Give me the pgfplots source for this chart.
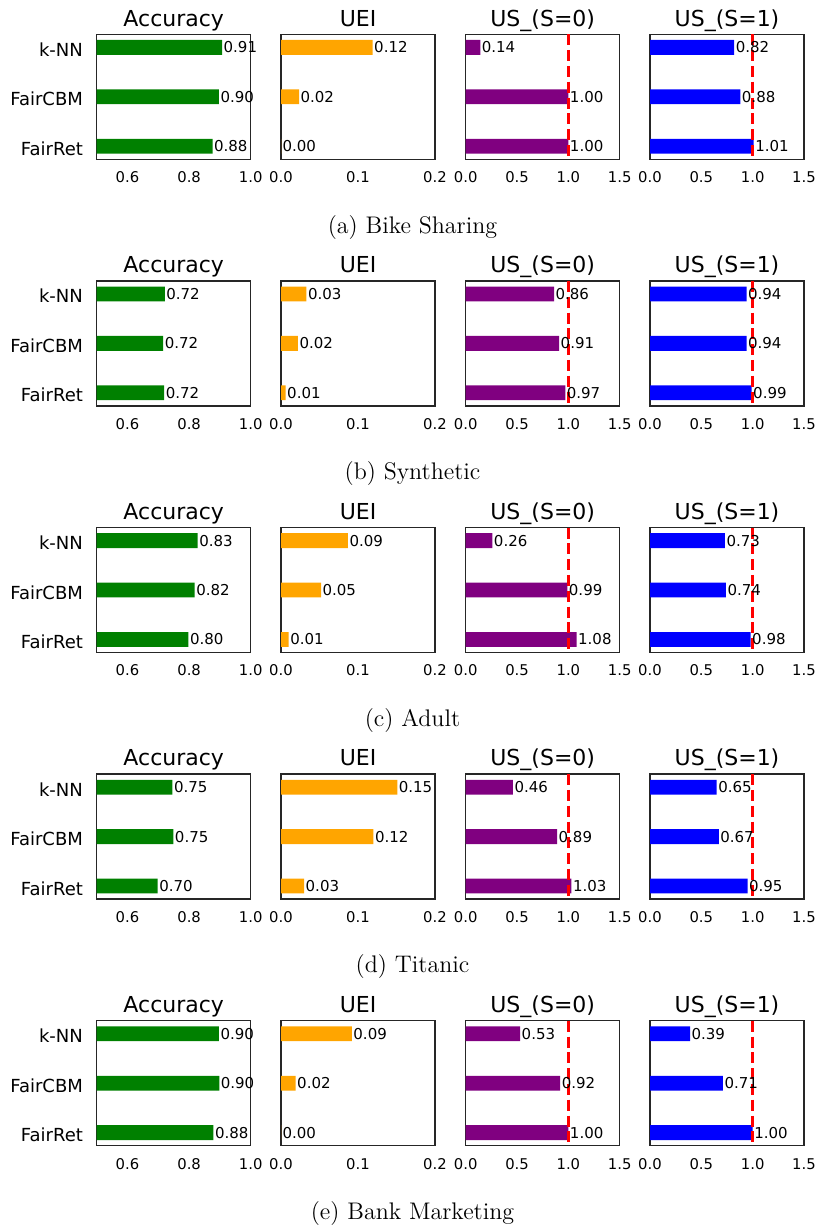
\documentclass[border=0pt]{standalone}
\usepackage{fontspec}
\newfontfamily\dv{DejaVu Sans}
\usepackage{pgfplots}
\pgfplotsset{compat=1.18}
\definecolor{mgreen}{RGB}{0,128,0}
\definecolor{morange}{RGB}{255,165,0}
\definecolor{mpurple}{RGB}{128,0,128}
\definecolor{mblue}{RGB}{0,0,255}
\definecolor{mred}{RGB}{255,0,0}
\pgfplotsset{
  panel/.style={
    scale only axis, width=77pt, height=62.5pt,
    anchor=north west,
    ymin=-0.265, ymax=2.265, y dir=reverse,
    ytick=\empty,
    axis line style={line width=0.75pt, black!85},
    major tick length=0pt,
    tick style={draw=none},
    every axis title shift=0pt,
    xticklabel style={font=\dv\fontsize{7.4}{8}\selectfont, anchor=base, yshift=-11.7pt, inner sep=0pt},
    yticklabel style={font=\dv\fontsize{9}{10}\selectfont, anchor=base east, xshift=-6.7pt, yshift=-4.5pt, inner sep=0pt},
    title style={font=\dv\fontsize{11}{12}\selectfont, at={(0.5,1)}, anchor=base, yshift=4.15pt, inner sep=0pt},
  },
  hb/.style={
    xbar, bar width=0.3, draw=none, point meta=x,
    nodes near coords={\pgfmathprintnumber[fixed,zerofill,precision=2,assume math mode=true]{\pgfplotspointmeta}},
    every node near coord/.append style={font=\dv\fontsize{7.5}{8}\selectfont, anchor=west, inner sep=0.6pt, text=black},
  },
  refline/.style={mred, line width=1.5pt, dash pattern=on 5.5pt off 2.4pt, mark=none},
}
\newcommand{\panelrow}[6]{%
  \begin{axis}[panel, at={(48.35pt,-#1pt)}, title={Accuracy},
      xmin=0.5, xmax=1.0, xtick={0.6,0.8,1.0}, xticklabels={0.6,0.8,1.0},
      ytick={0,1,2}, yticklabels={k-NN,FairCBM,FairRet}]
    \addplot[hb, fill=mgreen] coordinates {#3};
  \end{axis}
  \begin{axis}[panel, at={(140.5pt,-#1pt)}, title={UEI},
      xmin=0, xmax=0.2, xtick={0,0.1,0.2}, xticklabels={0.0,0.1,0.2}]
    \addplot[hb, fill=morange] coordinates {#4};
  \end{axis}
  \begin{axis}[panel, at={(232.85pt,-#1pt)}, title={US\_(S=0)},
      xmin=0, xmax=1.5, xtick={0,0.5,1,1.5}, xticklabels={0.0,0.5,1.0,1.5}]
    \addplot[hb, fill=mpurple] coordinates {#5};
    \addplot[refline] coordinates {(1,-0.265) (1,2.265)};
  \end{axis}
  \begin{axis}[panel, at={(325pt,-#1pt)}, title={US\_(S=1)},
      xmin=0, xmax=1.5, xtick={0,0.5,1,1.5}, xticklabels={0.0,0.5,1.0,1.5}]
    \addplot[hb, fill=mblue] coordinates {#6};
    \addplot[refline] coordinates {(1,-0.265) (1,2.265)};
  \end{axis}
}
\begin{document}
\begin{tikzpicture}
\useasboundingbox (0,0) rectangle (410pt,-613pt);
\panelrow{17.15}{a}
  {(0.907,0) (0.897,1) (0.876,2)}
  {(0.119,0) (0.0234,1) (0,2)}
  {(0.142,0) (1.0,1) (1.0,2)}
  {(0.82,0) (0.88,1) (1.01,2)}
\node[font=\fontsize{12}{14}\selectfont, anchor=base] at (206.25pt,-116.5pt) {(a) Bike Sharing};
\panelrow{140.45}{b}
  {(0.721,0) (0.716,1) (0.719,2)}
  {(0.033,0) (0.022,1) (0.006,2)}
  {(0.86,0) (0.91,1) (0.97,2)}
  {(0.94,0) (0.94,1) (0.99,2)}
\node[font=\fontsize{12}{14}\selectfont, anchor=base] at (206.25pt,-239.8pt) {(b) Synthetic};
\panelrow{263.75}{c}
  {(0.828,0) (0.818,1) (0.798,2)}
  {(0.087,0) (0.052,1) (0.01,2)}
  {(0.26,0) (0.99,1) (1.08,2)}
  {(0.73,0) (0.74,1) (0.98,2)}
\node[font=\fontsize{12}{14}\selectfont, anchor=base] at (206.25pt,-363.1pt) {(c) Adult};
\panelrow{387.05}{d}
  {(0.746,0) (0.749,1) (0.698,2)}
  {(0.151,0) (0.12,1) (0.03,2)}
  {(0.46,0) (0.89,1) (1.03,2)}
  {(0.65,0) (0.67,1) (0.95,2)}
\node[font=\fontsize{12}{14}\selectfont, anchor=base] at (206.25pt,-486.4pt) {(d) Titanic};
\panelrow{510.35}{e}
  {(0.897,0) (0.898,1) (0.879,2)}
  {(0.092,0) (0.019,1) (0,2)}
  {(0.53,0) (0.92,1) (1.0,2)}
  {(0.39,0) (0.71,1) (1.0,2)}
\node[font=\fontsize{12}{14}\selectfont, anchor=base] at (206.25pt,-609.7pt) {(e) Bank Marketing};
\end{tikzpicture}
\end{document}
